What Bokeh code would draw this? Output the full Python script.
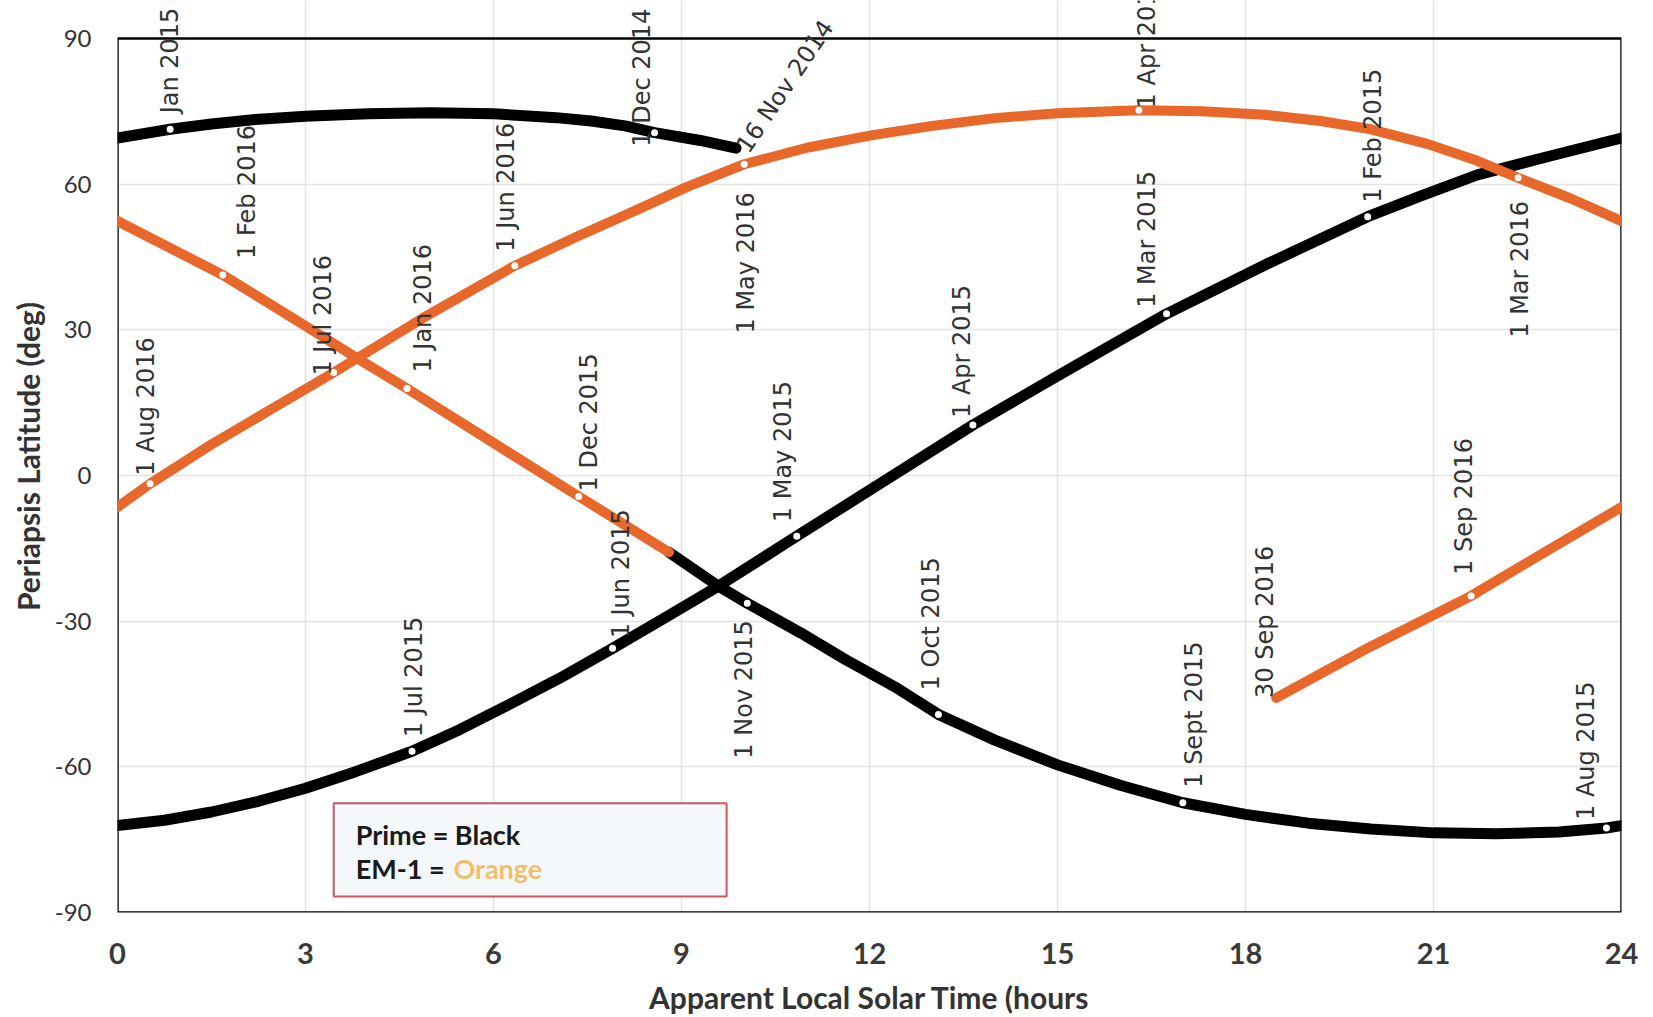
import math
from bokeh.plotting import figure
from bokeh.models import (ColumnDataSource, LabelSet, Label, BoxAnnotation,
                          FixedTicker, Range1d)
from bokeh.core.properties import value
from bokeh.embed import file_html
from bokeh.resources import INLINE

# ---------------- data ----------------
x_ticks = [0, 3, 6, 9, 12, 15, 18, 21, 24]
y_ticks = [-90, -60, -30, 0, 30, 60, 90]
y_tick_labels = ["-90", "-60", "-30", "0", "30", "60", "90"]

# Prime mission (black)
prime_a_x = [0, 0.84, 1.5, 2.2, 3.0, 4.0, 5.0, 6.0, 7.0, 7.56, 8.1, 8.57, 9.3, 9.87]
prime_a_y = [69.5, 71.3, 72.4, 73.3, 74.0, 74.5, 74.7, 74.5, 73.7, 73.0, 72.0, 70.6, 69.0, 67.4]
prime_b_x = [0, 0.75, 1.5, 2.25, 3.0, 3.8, 4.7, 5.45, 6.2, 7.05, 7.9, 8.75, 9.6, 10.84,
             12.25, 13.65, 15.2, 16.74, 18.35, 19.95, 20.8, 21.7, 22.8, 24]
prime_b_y = [-72.1, -71.0, -69.3, -67.1, -64.4, -61.0, -56.8, -52.4, -47.5, -41.8, -35.6,
             -29.2, -22.7, -12.5, -1.0, 10.4, 22.0, 33.3, 43.6, 53.3, 57.6, 61.9, 65.6, 69.5]
prime_c_x = [8.8, 9.58, 10.05, 10.9, 11.6, 12.4, 13.1, 14.0, 15.0, 16.0, 17.0, 18.0, 19.0,
             20.0, 21.0, 22.0, 23.0, 23.76, 24]
prime_c_y = [-15.8, -22.7, -26.3, -32.4, -37.8, -43.5, -49.2, -54.5, -59.6, -63.8, -67.4,
             -69.8, -71.6, -72.8, -73.6, -73.8, -73.4, -72.6, -72.1]

# EM-1 (orange)
em1_a_x = [0, 1.68, 3.0, 3.87, 4.62, 7.36, 8.8]
em1_a_y = [52.4, 41.3, 30.8, 23.8, 17.9, -4.3, -15.8]
em1_b_x = [0, 0.52, 1.51, 2.5, 3.45, 4.87, 6.34, 7.3, 8.2, 9.1, 10.0, 11.0, 12.0, 13.0,
           14.0, 15.0, 16.3, 17.3, 18.3, 19.2, 20.0, 20.9, 21.7, 22.35, 23.2, 24]
em1_b_y = [-6.5, -1.7, 6.5, 14.0, 21.2, 32.4, 43.2, 49.0, 54.2, 59.5, 64.1, 67.5, 70.0,
           72.0, 73.6, 74.6, 75.2, 75.0, 74.3, 73.0, 71.3, 68.3, 64.8, 61.3, 57.0, 52.4]
em1_c_x = [18.49, 20.0, 21.6, 22.8, 24]
em1_c_y = [-45.8, -35.2, -24.8, -15.6, -6.5]

# dated points (white marks) and their labels
mark_text = ["Jan 2015", "1 Dec 2014", "1 Feb 2015", "1 Mar 2015", "1 Apr 2015",
             "1 May 2015", "1 Jun 2015", "1 Jul 2015", "1 Aug 2015", "1 Sept 2015",
             "1 Oct 2015", "1 Nov 2015", "1 Dec 2015", "1 Jan 2016", "1 Feb 2016",
             "1 Mar 2016", "1 Apr 2016", "1 May 2016", "1 Jun 2016", "1 Jul 2016",
             "1 Aug 2016", "1 Sep 2016"]
mark_x = [0.84, 8.57, 19.95, 16.74, 13.65, 10.84, 7.9, 4.7, 23.76, 17.0, 13.1, 10.05,
          7.36, 4.62, 1.68, 22.35, 16.3, 10.0, 6.34, 3.45, 0.52, 21.6]
mark_y = [71.3, 70.6, 53.3, 33.3, 10.4, -12.5, -35.6, -56.8, -72.6, -67.4, -49.2, -26.3,
          -4.3, 17.9, 41.3, 61.3, 75.2, 64.1, 43.2, 21.2, -1.7, -24.8]

# segment end labels
end_text = ["16 Nov 2014", "30  Sep 2016"]
end_x = [9.87, 18.49]
end_y = [67.4, -45.8]

# ---------------- layout (label placement, px) ----------------
label_dx = [0, -13, 5, -20, -11, -14, 8, 2, -20, 11, -7, -3, 10, 16, 24, 2, 8, 2, -9, -11, -4, -7]
label_dy = [16, -14, 14, 6, 7, 14, 10, 14, 8, 15, 24, -17, 5, 16, 16, -23, 2, -28, 14, -3, 8, 21]
label_below = [False] * 22
for nm in ("1 Nov 2015", "1 Mar 2016", "1 May 2016"):
    label_below[mark_text.index(nm)] = True
end_dx = [6, -11]
end_dy = [-2, 0]
end_angle = [math.radians(56), math.pi / 2]

BLACK = "#000000"
ORANGE = "#E8672A"
LABEL_FONT = "DejaVu Sans"
LABEL_SIZE = "24px"
LABEL_COLOR = "#333333"
# frame runs to the top edge so that date labels can rise above the 90 deg border
Y_TOP = 90 + 38 / (874 / 180)

p = figure(width=1653, height=1017, x_range=Range1d(0, 24), y_range=Range1d(-90, Y_TOP),
           output_backend="svg", toolbar_location=None,
           min_border_left=117, min_border_right=32, min_border_top=0, min_border_bottom=105,
           background_fill_color="white", border_fill_color="white")
p.outline_line_color = None

p.xaxis.ticker = FixedTicker(ticks=x_ticks)
p.yaxis.ticker = FixedTicker(ticks=y_ticks)
p.yaxis.major_label_overrides = dict(zip(y_ticks, y_tick_labels))
for ax in (p.xaxis[0], p.yaxis[0]):
    ax.axis_line_color = None
    ax.major_tick_line_color = None
    ax.minor_tick_line_color = None
    ax.major_tick_in = 0
    ax.major_tick_out = 0
    ax.minor_tick_in = 0
    ax.minor_tick_out = 0

p.xaxis.axis_label = "Apparent Local Solar Time (hours"
p.yaxis.axis_label = "Periapsis Latitude (deg)"
p.xaxis.major_label_text_font = "Lato"
p.xaxis.major_label_text_font_size = "29px"
p.xaxis.major_label_text_font_style = "bold"
p.xaxis.major_label_text_color = "#3a3a3a"
p.xaxis.major_label_text_line_height = 0.75
p.xaxis.major_label_standoff = 30
p.xaxis.axis_label_text_font = "Lato"
p.xaxis.axis_label_text_font_size = "30px"
p.xaxis.axis_label_text_font_style = "bold"
p.xaxis.axis_label_text_color = "#333333"
p.xaxis.axis_label_standoff = 12

p.yaxis.major_label_text_font = "Lato"
p.yaxis.major_label_text_font_size = "24px"
p.yaxis.major_label_text_color = "#333333"
p.yaxis.major_label_standoff = 26
p.yaxis.axis_label_text_font = "Lato"
p.yaxis.axis_label_text_font_size = "30px"
p.yaxis.axis_label_text_font_style = "bold"
p.yaxis.axis_label_text_color = "#333333"
p.yaxis.axis_label_standoff = 6

p.xgrid.grid_line_color = "#e3e3e3"
p.ygrid.grid_line_color = "#e3e3e3"
p.xgrid.grid_line_width = 1.5
p.ygrid.grid_line_width = 1.5
p.xgrid.bounds = (-90, 90)

# plot border (0..24 h, -90..90 deg)
p.add_layout(BoxAnnotation(left=0, right=24, bottom=-90, top=90, fill_alpha=0,
                           line_color="black", line_width=2.5, line_alpha=1.0,
                           level="underlay"))

# curves
for xs, ys in ((prime_a_x, prime_a_y), (prime_b_x, prime_b_y), (prime_c_x, prime_c_y)):
    p.line(xs, ys, line_color=BLACK, line_width=11, line_cap="round", line_join="round")
for xs, ys in ((em1_a_x, em1_a_y), (em1_b_x, em1_b_y), (em1_c_x, em1_c_y)):
    p.line(xs, ys, line_color=ORANGE, line_width=10, line_cap="round", line_join="round")

# white date marks
p.scatter(mark_x, mark_y, marker="circle", size=7, fill_color="white", line_color=None)

def subset(flag):
    idx = [i for i, b in enumerate(label_below) if b == flag]
    return ColumnDataSource(dict(
        x=[mark_x[i] for i in idx], y=[mark_y[i] for i in idx],
        text=[mark_text[i] for i in idx],
        dx=[label_dx[i] for i in idx], dy=[label_dy[i] for i in idx]))

for flag, align in ((False, "left"), (True, "right")):
    p.add_layout(LabelSet(x="x", y="y", text="text", x_offset="dx", y_offset="dy",
                          angle=math.pi / 2, text_align=align, text_baseline="middle",
                          text_font=value(LABEL_FONT), text_font_size=value(LABEL_SIZE),
                          text_color=LABEL_COLOR, source=subset(flag)))

end_src = ColumnDataSource(dict(x=end_x, y=end_y, text=end_text, dx=end_dx, dy=end_dy, a=end_angle))
p.add_layout(LabelSet(x="x", y="y", text="text", x_offset="dx", y_offset="dy", angle="a",
                      text_align="left", text_baseline="middle",
                      text_font=value(LABEL_FONT), text_font_size=value(LABEL_SIZE),
                      text_color=LABEL_COLOR, source=end_src))

# legend box
p.add_layout(BoxAnnotation(left=3.45, right=9.72, bottom=-86.7, top=-67.5,
                           fill_color="#f5f8fb", fill_alpha=1.0,
                           line_color="#c9595b", line_width=2, line_alpha=1.0))
common = dict(text_font="Lato", text_font_size="27px", text_font_style="bold",
              text_baseline="middle", text_align="left")
p.add_layout(Label(x=3.80, y=-73.9, text="Prime = Black", text_color="#1a1a1a", **common))
p.add_layout(Label(x=3.80, y=-80.9, text="EM-1 = ", text_color="#1a1a1a", **common))
p.add_layout(Label(x=5.36, y=-80.9, text="Orange", text_color="#F4BE6A", **common))

open("out.html", "w").write(file_html(p, INLINE))
